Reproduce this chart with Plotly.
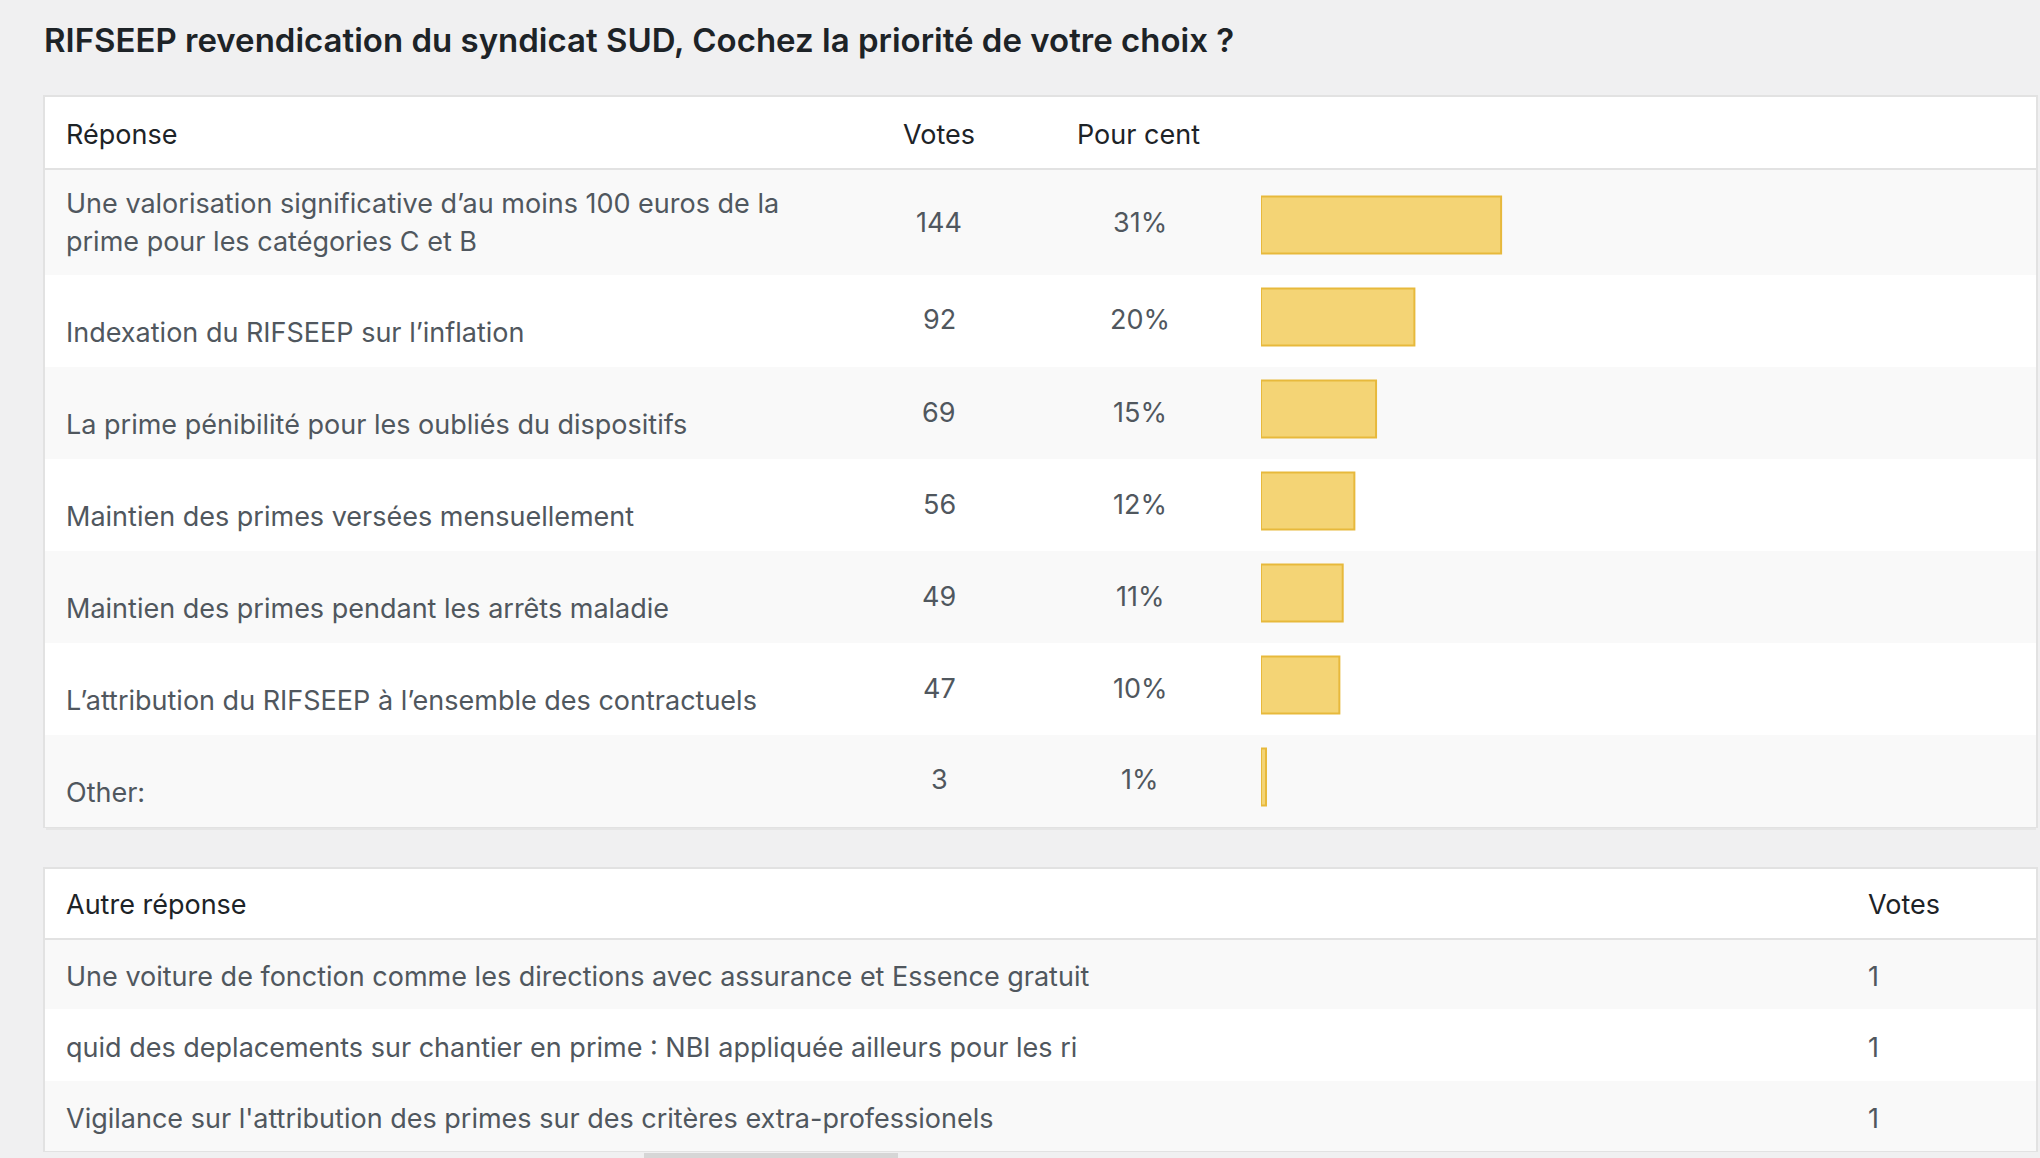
# -*- coding: utf-8 -*-
import plotly.graph_objects as go

W, H = 2040, 1158

titre = "RIFSEEP revendication du syndicat SUD, Cochez la priorité de votre choix ?"

reponses = [
    "Une valorisation significative d’au moins 100 euros de la<br>prime pour les catégories C et B",
    "Indexation du RIFSEEP sur l’inflation",
    "La prime pénibilité pour les oubliés du dispositifs",
    "Maintien des primes versées mensuellement",
    "Maintien des primes pendant les arrêts maladie",
    "L’attribution du RIFSEEP à l’ensemble des contractuels",
    "Other:",
]
votes = [144, 92, 69, 56, 49, 47, 3]
pour_cent = [31, 20, 15, 12, 11, 10, 1]

autres = [
    "Une voiture de fonction comme les directions avec assurance et Essence gratuit",
    "quid des deplacements sur chantier en prime : NBI appliquée ailleurs pour les ri",
    "Vigilance sur l'attribution des primes sur des critères extra-professionels",
]
autres_votes = [1, 1, 1]

FONT = "Inter"
DARK = "#1d2327"
GREY = "#50575e"
BORDER = "#e2e2e2"
STRIPE = "#f9f9f9"
FS = 27


def px(x):
    return x / W


def py(y):
    return 1 - y / H


# geometry (pixels) of table 1
T1_TOP, T1_HEAD, T1_ROW1, ROW_H = 96, 169, 275, 92
rows_top = [T1_HEAD] + [T1_ROW1 + ROW_H * i for i in range(len(reponses) - 1)]
rows_bot = rows_top[1:] + [T1_ROW1 + ROW_H * (len(reponses) - 1)]
T1_BOT = rows_bot[-1]

# geometry of table 2
T2_TOP, T2_HEAD, ROW2_H = 868, 939, 71
rows2_top = [T2_HEAD + ROW2_H * i for i in range(len(autres))]
T2_BOT = rows2_top[-1] + ROW2_H - 1

shapes = []


def rect(x0, y0, x1, y1, fill, line=None, lw=0):
    shapes.append(dict(type="rect", xref="paper", yref="paper",
                       x0=px(x0), x1=px(x1), y0=py(y1), y1=py(y0),
                       fillcolor=fill, layer="below",
                       line=dict(color=line or fill, width=lw)))


def hline(y, x0, x1, color, lw=2):
    shapes.append(dict(type="line", xref="paper", yref="paper",
                       x0=px(x0), x1=px(x1), y0=py(y), y1=py(y), layer="below",
                       line=dict(color=color, width=lw)))


# table 1 frame, stripes, header rule
rect(44, T1_TOP, 2037, T1_BOT, "white", BORDER, 2)
for i in range(len(reponses)):
    if i % 2 == 0:
        rect(45, rows_top[i], 2036, rows_bot[i], STRIPE)
hline(T1_HEAD, 45, 2036, BORDER)
hline(T1_BOT + 2, 46, 2036, "#e6e6e6", 2)

# table 2
rect(44, T2_TOP, 2037, T2_BOT, "white", BORDER, 2)
for i in range(len(autres)):
    if i % 2 == 0:
        rect(45, rows2_top[i], 2036, rows2_top[i] + ROW2_H - 1, STRIPE)
hline(T2_HEAD, 45, 2036, BORDER)
rect(644, 1153, 898, 1158, "#d6d6d6")

ann = []


def txt(x, y, s, color=GREY, size=FS, anchor="left", weight="normal"):
    ann.append(dict(xref="paper", yref="paper", x=px(x), y=py(y), text=s,
                    showarrow=False, xanchor=anchor, yanchor="middle",
                    font=dict(family=FONT, size=size, color=color, weight=weight)))


txt(42, 40, titre, DARK, 33, weight=600)

# headers table 1
txt(64, 134, "Réponse", DARK)
txt(939, 134, "Votes", DARK, anchor="center")
txt(1138, 134, "Pour cent", DARK, anchor="center")

for i, lab in enumerate(reponses):
    if i == 0:
        for j, part in enumerate(lab.split("<br>")):
            txt(64, 204 + 37 * j, part)
        yn = 222
    else:
        txt(64, rows_top[i] + 57, lab)
        yn = rows_top[i] + 45
    txt(939, yn, str(votes[i]), anchor="center")
    txt(1140, yn, f"{pour_cent[i]}%", anchor="center")

# table 2 text
txt(64, 904, "Autre réponse", DARK)
txt(1866, 904, "Votes", DARK)
for i, lab in enumerate(autres):
    yc = rows2_top[i] + 37
    txt(64, yc, lab)
    txt(1866, yc, str(autres_votes[i]))

bars = go.Bar(
    x=votes,
    y=reponses,
    orientation="h",
    width=0.62,
    marker=dict(color="#f4d475", line=dict(color="#e7b93c", width=2)),
    hoverinfo="x",
)

fig = go.Figure(data=[bars])
fig.update_layout(
    width=W, height=H,
    margin=dict(l=0, r=0, t=0, b=0),
    paper_bgcolor="#f0f0f1",
    plot_bgcolor="rgba(0,0,0,0)",
    showlegend=False,
    shapes=shapes,
    annotations=ann,
    xaxis=dict(domain=[px(1261), px(2028)], range=[0, sum(votes)],
               visible=False, fixedrange=True),
    yaxis=dict(domain=[py(823), py(179)], range=[len(votes) - 0.5, -0.5],
               type="category", visible=False, fixedrange=True),
)

fig.write_html("out.html", config={"displayModeBar": False},
               post_script="document.body.style.margin='0';")
